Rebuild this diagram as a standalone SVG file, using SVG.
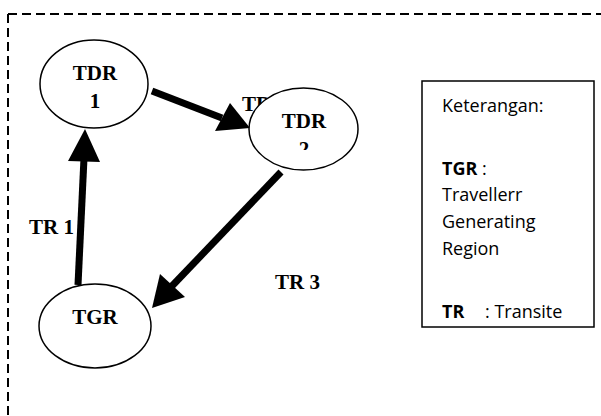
<svg xmlns="http://www.w3.org/2000/svg" width="601" height="416" viewBox="0 0 601 416">
<style>
.node{fill:#fff;stroke:#000;stroke-width:1.5}
.lbl{font-family:"Liberation Serif","Times New Roman",serif;font-weight:bold;font-size:21px;fill:#000}
.conn{stroke:#000;stroke-width:7;fill:none}
.head{fill:#000;stroke:none}
.leg{font-family:"Open Sans","Liberation Sans",sans-serif;font-size:18px;fill:#000}
</style>
<defs>
<clipPath id="clip2"><rect x="250" y="88" width="110" height="62"/></clipPath>
</defs>
<path d="M8,14 H601 M8,14 V416" fill="none" stroke="#000" stroke-width="2" stroke-dasharray="9,5"/>
<text class="lbl" x="242" y="111">TR</text>
<g id="connectors">
<line class="conn" x1="152" y1="91" x2="222" y2="118"/>
<polygon class="head" points="250,128 215,131 230,103"/>
<line class="conn" x1="78" y1="285" x2="84" y2="158"/>
<polygon class="head" points="85,129 68,161 100,162"/>
<line class="conn" x1="281" y1="172" x2="172" y2="286"/>
<polygon class="head" points="152,308 160,274 185,297"/>
</g>
<g id="TDR1">
<ellipse class="node" cx="94" cy="84" rx="54" ry="44"/>
<text class="lbl" x="95" y="80" text-anchor="middle">TDR</text>
<text class="lbl" x="95" y="108" text-anchor="middle">1</text>
</g>
<g id="TDR2">
<ellipse class="node" cx="303.5" cy="129" rx="54.5" ry="41"/>
<text class="lbl" x="304" y="128" text-anchor="middle">TDR</text>
<text class="lbl" x="304" y="156" text-anchor="middle" clip-path="url(#clip2)">2</text>
</g>
<g id="TGR">
<ellipse class="node" cx="95" cy="326" rx="56" ry="42"/>
<text class="lbl" x="95" y="324" text-anchor="middle">TGR</text>
</g>
<text class="lbl" x="29" y="234">TR 1</text>
<text class="lbl" x="275" y="289">TR 3</text>
<g id="legend">
<rect x="422" y="81" width="172" height="246" fill="#fff" stroke="#000" stroke-width="1.5"/>
<text class="leg" x="442" y="112">Keterangan:</text>
<text class="leg" x="442" y="175"><tspan font-weight="bold">TGR</tspan> :</text>
<text class="leg" x="442" y="201">Travellerr</text>
<text class="leg" x="442" y="228">Generating</text>
<text class="leg" x="442" y="255">Region</text>
<text class="leg" x="442" y="318"><tspan font-weight="bold">TR</tspan></text>
<text class="leg" x="485" y="318">: Transite</text>
</g>
</svg>
